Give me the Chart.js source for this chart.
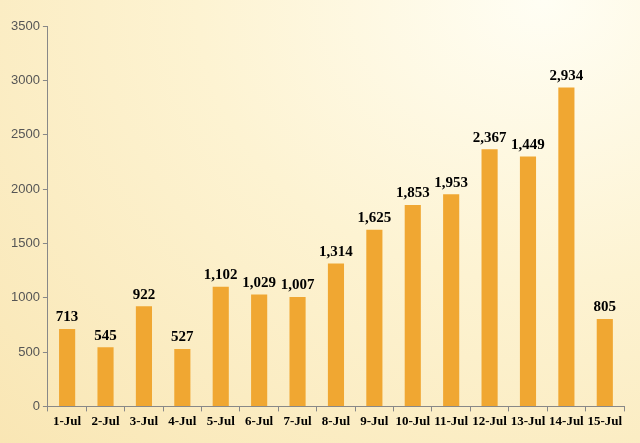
<!DOCTYPE html>
<html>
<head>
<meta charset="utf-8">
<script src="https://cdn.jsdelivr.net/npm/chart.js@4"></script>
<style>
  html, body { margin: 0; padding: 0; }
  body {
    width: 640px; height: 443px; overflow: hidden;
    background: radial-gradient(ellipse at 85% 0%, #fffef4 0%, #fdf3d2 45%, #f9e6b4 100%);
  }
  #wrap { position: relative; width: 640px; height: 443px; }
</style>
</head>
<body>
<div id="wrap"><canvas id="chart"></canvas></div>
<script>
var days = ['1-Jul', '2-Jul', '3-Jul', '4-Jul', '5-Jul', '6-Jul', '7-Jul', '8-Jul',
  '9-Jul', '10-Jul', '11-Jul', '12-Jul', '13-Jul', '14-Jul', '15-Jul'];
var cases = [713, 545, 922, 527, 1102, 1029, 1007, 1314, 1625, 1853, 1953, 2367, 2300, 2934, 805];
// label text as printed on the picture (13-Jul label differs from its bar)
var caseLabels = ['713', '545', '922', '527', '1,102', '1,029', '1,007', '1,314',
  '1,625', '1,853', '1,953', '2,367', '1,449', '2,934', '805'];
var yTicks = [0, 500, 1000, 1500, 2000, 2500, 3000, 3500];

var barLabels = {
  id: 'barLabels',
  afterDatasetsDraw: function (chart) {
    var ctx = chart.ctx;
    var meta = chart.getDatasetMeta(0);
    ctx.save();
    ctx.font = 'bold 15px "Liberation Serif", serif';
    ctx.fillStyle = '#000';
    ctx.textAlign = 'center';
    ctx.textBaseline = 'bottom';
    meta.data.forEach(function (bar, i) {
      ctx.fillText(caseLabels[i], bar.x, bar.y - 4);
    });
    ctx.restore();
  }
};

new Chart(document.getElementById('chart'), {
  type: 'bar',
  data: {
    labels: days,
    datasets: [{ data: cases, backgroundColor: '#f0a732', categoryPercentage: 1, barPercentage: 0.42 }]
  },
  options: {
    responsive: true,
    maintainAspectRatio: false,
    animation: false,
    layout: { padding: { top: 26, right: 16, left: 8, bottom: 12 } },
    plugins: { legend: { display: false }, tooltip: { enabled: false } },
    scales: {
      x: {
        grid: { display: true, drawOnChartArea: false, tickLength: 5, color: '#888', offset: true },
        border: { color: '#888' },
        ticks: { color: '#000', font: { family: '"Liberation Serif", serif', weight: 'bold', size: 13 }, maxRotation: 0, autoSkip: false, padding: 2 }
      },
      y: {
        min: 0, max: 3500,
        afterBuildTicks: function (axis) { axis.ticks = yTicks.map(function (v) { return { value: v }; }); },
        grid: { display: true, drawOnChartArea: false, tickLength: 5, color: '#888' },
        border: { color: '#888' },
        ticks: { color: '#555', font: { family: 'Liberation Sans, sans-serif', size: 13 }, callback: function (v) { return String(v); } }
      }
    }
  },
  plugins: [barLabels]
});
</script>
</body>
</html>
